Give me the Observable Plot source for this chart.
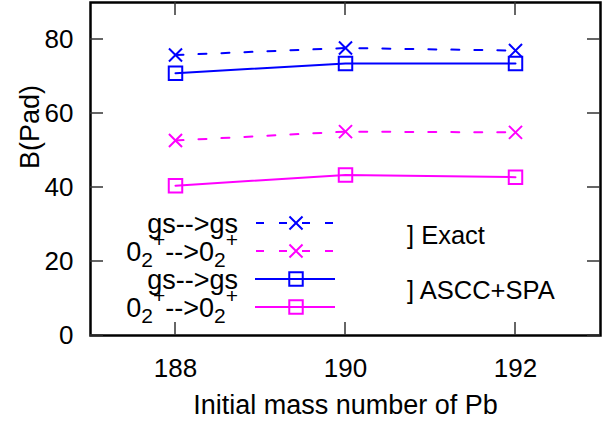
<!DOCTYPE html>
<html><head><meta charset="utf-8">
<script src="https://cdn.jsdelivr.net/npm/d3@7"></script>
<script src="https://cdn.jsdelivr.net/npm/@observablehq/plot@0.6"></script>
<style>body{margin:0;background:#fff} svg{display:block}</style>
</head><body><div id="chart"></div>
<script>
// ---- data ----
const massNumbers = [188, 190, 192];
const exactGs  = [75.8, 77.7, 77.0];   // gs-->gs, Exact
const exact02  = [52.7, 55.1, 54.9];   // 0_2^+-->0_2^+, Exact
const asccGs   = [70.9, 73.5, 73.5];   // gs-->gs, ASCC+SPA
const ascc02   = [40.5, 43.4, 42.8];   // 0_2^+-->0_2^+, ASCC+SPA
const xTicks = [188, 190, 192];
const yTicks = [0, 20, 40, 60, 80];
const xLabel = "Initial mass number of Pb";
const yLabel = "B(Pad)";
const groupLabels = ["] Exact", "] ASCC+SPA"];

const blue = "#0000ff", mag = "#ff00ff";
const font = "'Liberation Sans', Arial, Helvetica, sans-serif";
const rows = (vals) => massNumbers.map((m, i) => ({m, v: vals[i]}));

const chart = Plot.plot({
  width: 608, height: 421,
  marginLeft: 90, marginRight: 8, marginTop: 2, marginBottom: 86,
  style: {fontFamily: font, fontSize: "26px", background: "white", color: "black"},
  x: {domain: [187, 193], ticks: xTicks, tickFormat: d => String(d), tickSize: 0, tickPadding: 23, label: null},
  y: {domain: [0, 90], ticks: yTicks, tickSize: 0, tickPadding: 17, label: null},
  marks: [
    Plot.line(rows(exactGs), {x: "m", y: "v", stroke: blue, strokeWidth: 2, strokeDasharray: "8,15"}),
    Plot.line(rows(exact02), {x: "m", y: "v", stroke: mag, strokeWidth: 2, strokeDasharray: "8,15"}),
    Plot.line(rows(asccGs), {x: "m", y: "v", stroke: blue, strokeWidth: 2}),
    Plot.line(rows(ascc02), {x: "m", y: "v", stroke: mag, strokeWidth: 2}),
    Plot.dot(rows(exactGs), {x: "m", y: "v", symbol: "times", r: 6, stroke: blue, strokeWidth: 2}),
    Plot.dot(rows(exact02), {x: "m", y: "v", symbol: "times", r: 6, stroke: mag, strokeWidth: 2}),
    Plot.dot(rows(asccGs), {x: "m", y: "v", symbol: "square", r: 7.6, stroke: blue, fill: "none", strokeWidth: 2}),
    Plot.dot(rows(ascc02), {x: "m", y: "v", symbol: "square", r: 7.6, stroke: mag, fill: "none", strokeWidth: 2}),
    Plot.frame({stroke: "black", strokeWidth: 2.5}),
    Plot.text([xLabel], {frameAnchor: "bottom", dy: 78, fontSize: 27, fill: "black"}),
    Plot.text([yLabel], {frameAnchor: "left", rotate: -90, dx: -60, fontSize: 27, fill: "black"})
  ]
});
document.getElementById("chart").appendChild(chart);

// ---- inward (mirrored) tick marks through the Plot scales ----
const sx = chart.scale("x"), sy = chart.scale("y");
const [x0, x1] = sx.range, [yB, yT] = sy.range;
const svg = d3.select(chart);
const tg = svg.append("g").attr("stroke", "#333").attr("stroke-width", 1.5);
const tl = 13;
xTicks.forEach(t => {
  const x = sx.apply(t);
  tg.append("line").attr("x1", x).attr("x2", x).attr("y1", yB).attr("y2", yB - tl);
  tg.append("line").attr("x1", x).attr("x2", x).attr("y1", yT).attr("y2", yT + tl);
});
yTicks.forEach(t => {
  const y = sy.apply(t);
  tg.append("line").attr("x1", x0).attr("x2", x0 + tl).attr("y1", y).attr("y2", y);
  tg.append("line").attr("x1", x1).attr("x2", x1 - tl).attr("y1", y).attr("y2", y);
});

// ---- legend (gnuplot style, inside the plot) ----
const gsParts = [["gs-->gs", ""]];
const o2Parts = [["0", ""], ["2", "sub"], ["+", "sup"], ["-->", ""], ["0", ""], ["2", "sub"], ["+", "sup"]];
const legendItems = [
  {parts: gsParts, color: blue, dash: "8,15", sym: d3.symbolTimes, r: 6},
  {parts: o2Parts, color: mag, dash: "8,15", sym: d3.symbolTimes, r: 6},
  {parts: gsParts, color: blue, dash: null, sym: d3.symbolSquare, r: 7.6},
  {parts: o2Parts, color: mag, dash: null, sym: d3.symbolSquare, r: 7.6}
];
const lg = svg.append("g").attr("font-family", font).attr("font-size", 27).attr("text-anchor", "start");
const rowY = [223, 251, 279, 307];
legendItems.forEach((it, i) => {
  const y = rowY[i];
  const t = lg.append("text").attr("x", 238).attr("y", y + 10).attr("text-anchor", "end").attr("fill", "black");
  let shift = 0;
  it.parts.forEach(([s, kind]) => {
    const target = kind === "sub" ? 6 : kind === "sup" ? -14 : 0;
    const ts = t.append("tspan").attr("dy", target - shift).text(s);
    if (kind) ts.attr("font-size", 21);
    shift = target;
  });
  const line = lg.append("line").attr("x1", 255).attr("x2", 335).attr("y1", y).attr("y2", y)
    .attr("stroke", it.color).attr("stroke-width", 2);
  if (it.dash) line.attr("stroke-dasharray", it.dash).attr("stroke-dashoffset", -1);
  lg.append("path").attr("transform", `translate(296,${y})`)
    .attr("d", d3.symbol(it.sym, it.r * it.r * Math.PI)())
    .attr("fill", "none").attr("stroke", it.color).attr("stroke-width", 2);
});
lg.append("text").attr("x", 407).attr("y", 244).attr("font-size", 25.5).text(groupLabels[0]);
lg.append("text").attr("x", 407).attr("y", 299).attr("font-size", 25.5).text(groupLabels[1]);
</script>
</body></html>
